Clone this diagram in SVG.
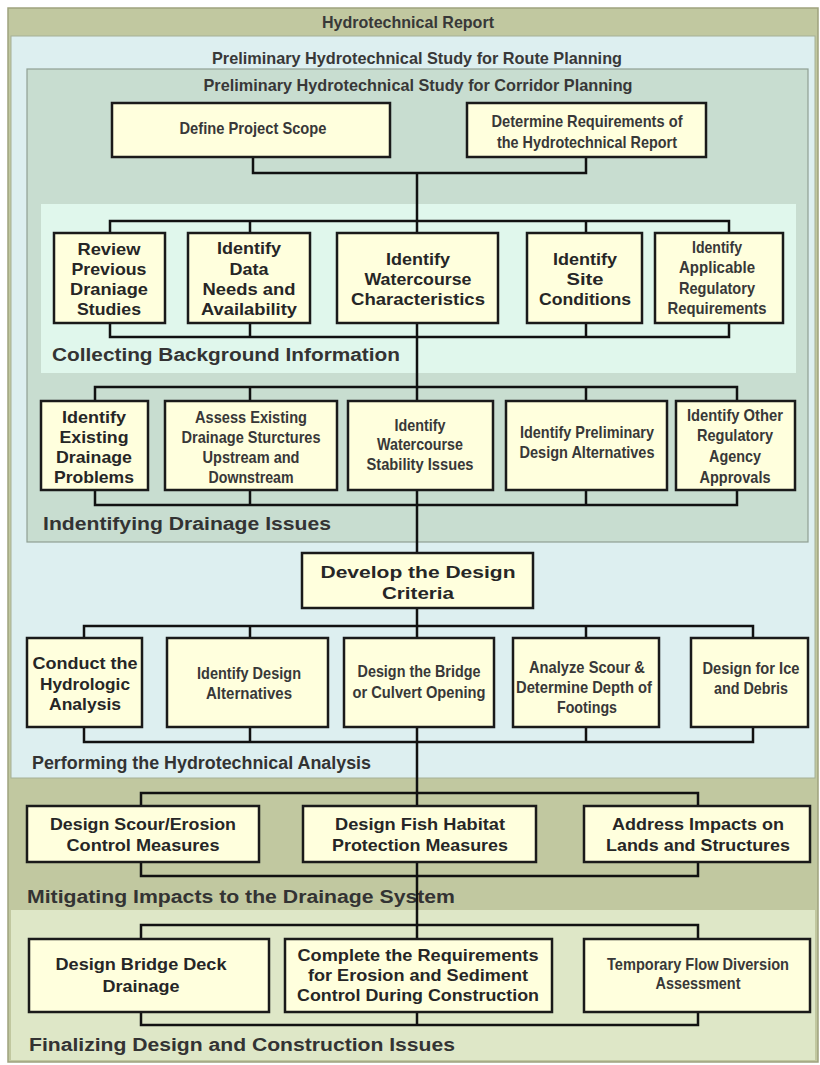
<svg xmlns="http://www.w3.org/2000/svg" width="820" height="1065" viewBox="0 0 820 1065">
<style>
.box{fill:#ffffdd;stroke:#1a1a1a;stroke-width:2.5}
.t{font-family:"Liberation Sans",Arial,sans-serif;font-weight:bold;font-size:16.5px;fill:#262626;text-anchor:middle}
.n{fill:#383838}
.sec{font-family:"Liberation Sans",Arial,sans-serif;font-weight:bold;font-size:18px;fill:#333333;text-anchor:start}
.ttl{font-family:"Liberation Sans",Arial,sans-serif;font-weight:bold;font-size:16.5px;fill:#383838;text-anchor:middle}
.conn{fill:none;stroke:#111;stroke-width:2.5;stroke-linejoin:miter}
</style>
<rect x="0" y="0" width="820" height="1065" fill="#ffffff"/>
<g id="regions">
<rect x="8" y="8" width="810" height="1054" fill="#c1c8a0" stroke="#9ea27e" stroke-width="1.5"/>
<rect x="11" y="36" width="804" height="742" fill="#ddeff0" stroke="#a6b096" stroke-width="1"/>
<rect x="27" y="69" width="781" height="473" fill="#c8ddd0" stroke="#8f9f93" stroke-width="1.2"/>
<rect x="41" y="204" width="755" height="169" fill="#e0f7ec"/>
<rect x="11" y="910" width="804" height="150" fill="#dee7c7"/>
</g>
<g id="titles">
<text class="ttl" x="408" y="28" font-size="14.5" textLength="172" lengthAdjust="spacingAndGlyphs">Hydrotechnical Report</text>
<text class="ttl" x="417" y="64" textLength="410" lengthAdjust="spacingAndGlyphs">Preliminary Hydrotechnical Study for Route Planning</text>
<text class="ttl" x="418" y="91" textLength="429" lengthAdjust="spacingAndGlyphs">Preliminary Hydrotechnical Study for Corridor Planning</text>
<text class="sec" x="52" y="361" textLength="348" lengthAdjust="spacingAndGlyphs">Collecting Background Information</text>
<text class="sec" x="43" y="530" textLength="288" lengthAdjust="spacingAndGlyphs">Indentifying Drainage Issues</text>
<text class="sec" x="32" y="769" textLength="339" lengthAdjust="spacingAndGlyphs">Performing the Hydrotechnical Analysis</text>
<text class="sec" x="27" y="903" textLength="428" lengthAdjust="spacingAndGlyphs">Mitigating Impacts to the Drainage System</text>
<text class="sec" x="29" y="1051" textLength="426" lengthAdjust="spacingAndGlyphs">Finalizing Design and Construction Issues</text>
</g>
<g id="connectors" class="conn">
<path d="M253 157V173H586V157M417 173V233"/>
<path d="M110 233V221H729V233M250 221V233M586 221V233"/>
<path d="M110 323V337H729V323M250 323V337M586 323V337M417 323V401"/>
<path d="M95 401V387H737V401M250 387V401M586 387V401"/>
<path d="M95 490V505H737V490M250 490V505M586 490V505M417 490V553"/>
<path d="M417 608V638M84 638V626H753V638M250 626V638M586 626V638"/>
<path d="M84 727V742H753V727M250 727V742M586 727V742M417 727V806"/>
<path d="M141 806V793H698V806"/>
<path d="M141 862V876H698V862M417 862V939"/>
<path d="M141 939V925H698V939"/>
<path d="M141 1012V1025H698V1012M417 1012V1025"/>
</g>
<g id="n-define"><rect class="box" x="112" y="103" width="278" height="54"/>
<text class="t n" x="253" y="134" textLength="147" lengthAdjust="spacingAndGlyphs">Define Project Scope</text></g>
<g id="n-determine"><rect class="box" x="467" y="103" width="239" height="54"/>
<text class="t n" x="587" y="127" textLength="191" lengthAdjust="spacingAndGlyphs">Determine Requirements of</text>
<text class="t n" x="587" y="148" textLength="180" lengthAdjust="spacingAndGlyphs">the Hydrotechnical Report</text></g>

<g id="n-review"><rect class="box" x="54" y="233" width="111" height="90"/>
<text class="t" x="109" y="255" textLength="63" lengthAdjust="spacingAndGlyphs">Review</text>
<text class="t" x="109" y="275" textLength="75" lengthAdjust="spacingAndGlyphs">Previous</text>
<text class="t" x="109" y="295" textLength="78" lengthAdjust="spacingAndGlyphs">Draniage</text>
<text class="t" x="109" y="315" textLength="64" lengthAdjust="spacingAndGlyphs">Studies</text></g>
<g id="n-data"><rect class="box" x="188" y="233" width="122" height="90"/>
<text class="t" x="249" y="254" textLength="64" lengthAdjust="spacingAndGlyphs">Identify</text>
<text class="t" x="249" y="275" textLength="39" lengthAdjust="spacingAndGlyphs">Data</text>
<text class="t" x="249" y="295" textLength="93" lengthAdjust="spacingAndGlyphs">Needs and</text>
<text class="t" x="249" y="315" textLength="96" lengthAdjust="spacingAndGlyphs">Availability</text></g>
<g id="n-watercourse"><rect class="box" x="337" y="233" width="161" height="90"/>
<text class="t" x="418" y="265" textLength="64" lengthAdjust="spacingAndGlyphs">Identify</text>
<text class="t" x="418" y="285" textLength="107" lengthAdjust="spacingAndGlyphs">Watercourse</text>
<text class="t" x="418" y="305" textLength="134" lengthAdjust="spacingAndGlyphs">Characteristics</text></g>
<g id="n-site"><rect class="box" x="527" y="233" width="115" height="90"/>
<text class="t" x="585" y="265" textLength="64" lengthAdjust="spacingAndGlyphs">Identify</text>
<text class="t" x="585" y="285" textLength="37" lengthAdjust="spacingAndGlyphs">Site</text>
<text class="t" x="585" y="305" textLength="92" lengthAdjust="spacingAndGlyphs">Conditions</text></g>
<g id="n-regreq"><rect class="box" x="655" y="233" width="128" height="90"/>
<text class="t n" x="717" y="253" textLength="50" lengthAdjust="spacingAndGlyphs">Identify</text>
<text class="t n" x="717" y="273" textLength="76" lengthAdjust="spacingAndGlyphs">Applicable</text>
<text class="t n" x="717" y="294" textLength="76" lengthAdjust="spacingAndGlyphs">Regulatory</text>
<text class="t n" x="717" y="314" textLength="99" lengthAdjust="spacingAndGlyphs">Requirements</text></g>

<g id="n-problems"><rect class="box" x="41" y="401" width="107" height="89"/>
<text class="t" x="94" y="423" textLength="64" lengthAdjust="spacingAndGlyphs">Identify</text>
<text class="t" x="94" y="443" textLength="69" lengthAdjust="spacingAndGlyphs">Existing</text>
<text class="t" x="94" y="463" textLength="76" lengthAdjust="spacingAndGlyphs">Drainage</text>
<text class="t" x="94" y="483" textLength="80" lengthAdjust="spacingAndGlyphs">Problems</text></g>
<g id="n-assess"><rect class="box" x="165" y="401" width="172" height="89"/>
<text class="t n" x="251" y="423" textLength="112" lengthAdjust="spacingAndGlyphs">Assess Existing</text>
<text class="t n" x="251" y="443" textLength="139" lengthAdjust="spacingAndGlyphs">Drainage Sturctures</text>
<text class="t n" x="251" y="463" textLength="97" lengthAdjust="spacingAndGlyphs">Upstream and</text>
<text class="t n" x="251" y="483" textLength="85" lengthAdjust="spacingAndGlyphs">Downstream</text></g>
<g id="n-stability"><rect class="box" x="348" y="401" width="145" height="89"/>
<text class="t n" x="420" y="431" textLength="51" lengthAdjust="spacingAndGlyphs">Identify</text>
<text class="t n" x="420" y="450" textLength="86" lengthAdjust="spacingAndGlyphs">Watercourse</text>
<text class="t n" x="420" y="470" textLength="107" lengthAdjust="spacingAndGlyphs">Stability Issues</text></g>
<g id="n-prelim"><rect class="box" x="506" y="401" width="161" height="89"/>
<text class="t n" x="587" y="438" textLength="134" lengthAdjust="spacingAndGlyphs">Identify Preliminary</text>
<text class="t n" x="587" y="458" textLength="135" lengthAdjust="spacingAndGlyphs">Design Alternatives</text></g>
<g id="n-agency"><rect class="box" x="676" y="401" width="119" height="89"/>
<text class="t n" x="735" y="421" textLength="96" lengthAdjust="spacingAndGlyphs">Identify Other</text>
<text class="t n" x="735" y="441" textLength="76" lengthAdjust="spacingAndGlyphs">Regulatory</text>
<text class="t n" x="735" y="462" textLength="52" lengthAdjust="spacingAndGlyphs">Agency</text>
<text class="t n" x="735" y="483" textLength="71" lengthAdjust="spacingAndGlyphs">Approvals</text></g>

<g id="n-develop"><rect class="box" x="302" y="553" width="231" height="55"/>
<text class="t" x="418" y="578" font-size="19" textLength="195" lengthAdjust="spacingAndGlyphs">Develop the Design</text>
<text class="t" x="418" y="599" font-size="19" textLength="72" lengthAdjust="spacingAndGlyphs">Criteria</text></g>

<g id="n-hydrologic"><rect class="box" x="27" y="638" width="115" height="89"/>
<text class="t" x="85" y="669" textLength="105" lengthAdjust="spacingAndGlyphs">Conduct the</text>
<text class="t" x="85" y="690" textLength="90" lengthAdjust="spacingAndGlyphs">Hydrologic</text>
<text class="t" x="85" y="710" textLength="72" lengthAdjust="spacingAndGlyphs">Analysis</text></g>
<g id="n-alternatives"><rect class="box" x="167" y="638" width="161" height="89"/>
<text class="t n" x="249" y="679" textLength="104" lengthAdjust="spacingAndGlyphs">Identify Design</text>
<text class="t n" x="249" y="699" textLength="86" lengthAdjust="spacingAndGlyphs">Alternatives</text></g>
<g id="n-opening"><rect class="box" x="344" y="638" width="150" height="89"/>
<text class="t n" x="419" y="677" textLength="123" lengthAdjust="spacingAndGlyphs">Design the Bridge</text>
<text class="t n" x="419" y="698" textLength="133" lengthAdjust="spacingAndGlyphs">or Culvert Opening</text></g>
<g id="n-scour"><rect class="box" x="513" y="638" width="146" height="89"/>
<text class="t n" x="587" y="673" textLength="116" lengthAdjust="spacingAndGlyphs">Analyze Scour &amp;</text>
<text class="t n" x="584" y="693" textLength="136" lengthAdjust="spacingAndGlyphs">Determine Depth of</text>
<text class="t n" x="587" y="713" textLength="60" lengthAdjust="spacingAndGlyphs">Footings</text></g>
<g id="n-ice"><rect class="box" x="691" y="638" width="117" height="89"/>
<text class="t n" x="751" y="674" textLength="97" lengthAdjust="spacingAndGlyphs">Design for Ice</text>
<text class="t n" x="751" y="694" textLength="74" lengthAdjust="spacingAndGlyphs">and Debris</text></g>

<g id="n-erosion"><rect class="box" x="27" y="806" width="232" height="56"/>
<text class="t" x="143" y="830" textLength="186" lengthAdjust="spacingAndGlyphs">Design Scour/Erosion</text>
<text class="t" x="143" y="851" textLength="153" lengthAdjust="spacingAndGlyphs">Control Measures</text></g>
<g id="n-fish"><rect class="box" x="303" y="806" width="233" height="56"/>
<text class="t" x="420" y="830" textLength="170" lengthAdjust="spacingAndGlyphs">Design Fish Habitat</text>
<text class="t" x="420" y="851" textLength="176" lengthAdjust="spacingAndGlyphs">Protection Measures</text></g>
<g id="n-lands"><rect class="box" x="584" y="806" width="226" height="56"/>
<text class="t" x="698" y="830" textLength="172" lengthAdjust="spacingAndGlyphs">Address Impacts on</text>
<text class="t" x="698" y="851" textLength="184" lengthAdjust="spacingAndGlyphs">Lands and Structures</text></g>

<g id="n-deck"><rect class="box" x="29" y="939" width="240" height="73"/>
<text class="t" x="141" y="970" textLength="171" lengthAdjust="spacingAndGlyphs">Design Bridge Deck</text>
<text class="t" x="141" y="992" textLength="77" lengthAdjust="spacingAndGlyphs">Drainage</text></g>
<g id="n-sediment"><rect class="box" x="285" y="939" width="267" height="73"/>
<text class="t" x="418" y="961" textLength="241" lengthAdjust="spacingAndGlyphs">Complete the Requirements</text>
<text class="t" x="418" y="981" textLength="220" lengthAdjust="spacingAndGlyphs">for Erosion and Sediment</text>
<text class="t" x="418" y="1001" textLength="242" lengthAdjust="spacingAndGlyphs">Control During Construction</text></g>
<g id="n-diversion"><rect class="box" x="584" y="939" width="226" height="73"/>
<text class="t n" x="698" y="970" textLength="182" lengthAdjust="spacingAndGlyphs">Temporary Flow Diversion</text>
<text class="t n" x="698" y="989" textLength="85" lengthAdjust="spacingAndGlyphs">Assessment</text></g>
</svg>
